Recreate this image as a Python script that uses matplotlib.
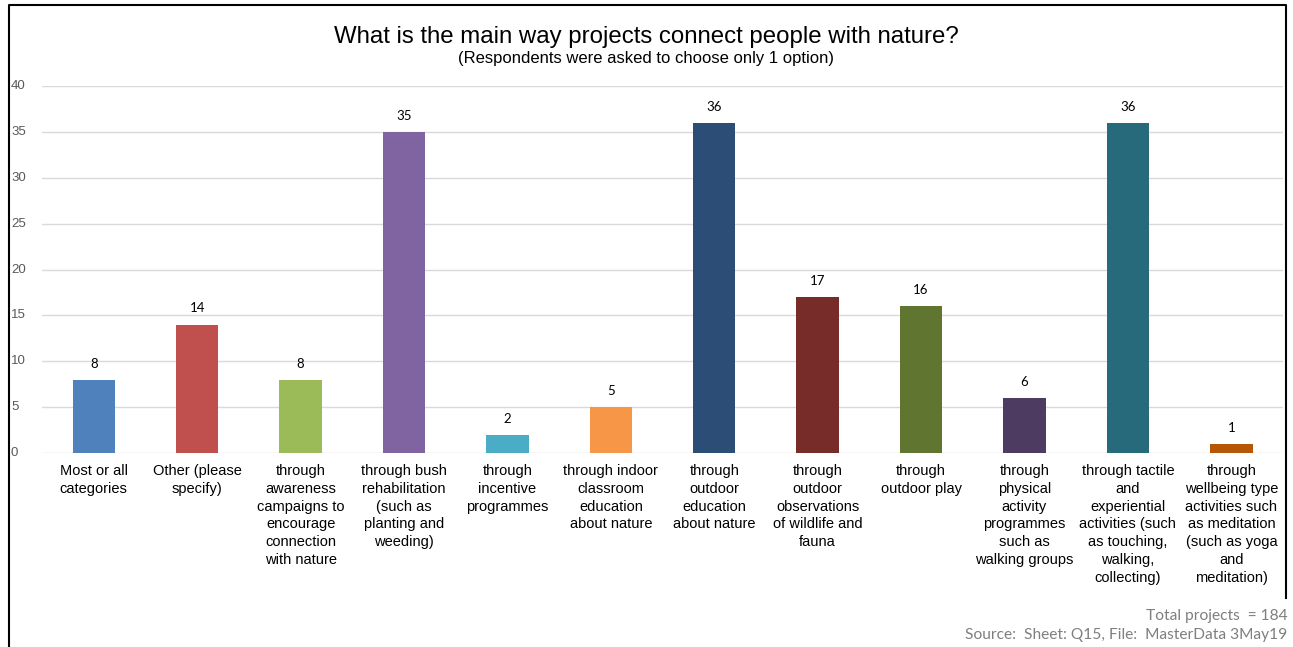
import matplotlib
matplotlib.use("Agg")
import matplotlib.pyplot as plt
from matplotlib.lines import Line2D

categories = [
    "Most or all\ncategories",
    "Other (please\nspecify)",
    "through\nawareness\ncampaigns to\nencourage\nconnection\nwith nature",
    "through bush\nrehabilitation\n(such as\nplanting and\nweeding)",
    "through\nincentive\nprogrammes",
    "through indoor\nclassroom\neducation\nabout nature",
    "through\noutdoor\neducation\nabout nature",
    "through\noutdoor\nobservations\nof wildlife and\nfauna",
    "through\noutdoor play",
    "through\nphysical\nactivity\nprogrammes\nsuch as\nwalking groups",
    "through tactile\nand\nexperiential\nactivities (such\nas touching,\nwalking,\ncollecting)",
    "through\nwellbeing type\nactivities such\nas meditation\n(such as yoga\nand\nmeditation)",
]
counts = [8, 14, 8, 35, 2, 5, 36, 17, 16, 6, 36, 1]
colors = ["#4F81BD", "#C0504D", "#9BBB59", "#8064A2", "#4BACC6", "#F79646",
          "#2C4D75", "#772C2A", "#5F7530", "#4D3B62", "#276A7C", "#B65708"]
yticks = [0, 5, 10, 15, 20, 25, 30, 35, 40]

fig = plt.figure(figsize=(12.93, 6.47), dpi=100)
ax = fig.add_axes([0.0325, 0.2998, 0.9598, 0.5672])

x = range(len(counts))
ax.bar(x, counts, width=0.41, color=colors, zorder=2)
for xi, v in zip(x, counts):
    ax.text(xi, v + 1.1, str(v), ha="center", va="bottom", fontsize=9.5,
            family="Lato", color="#000000")

ax.set_xlim(-0.5, len(counts) - 0.5)
ax.set_ylim(0, 40)
ax.set_yticks(yticks)
ax.set_yticklabels([])
for t in yticks:
    ax.axhline(t, color="#D9D9D9", lw=1.0, zorder=1)
    fig.text(0.0085, ax.transData.transform((0, t))[1] / fig.bbox.height, str(t),
             ha="left", va="center", fontsize=9.5, color="#595959", family="Liberation Sans")
ax.tick_params(axis="both", length=0)
ax.set_xticks(list(x))
ax.set_xticklabels(categories, fontsize=10.5, family="Liberation Sans", linespacing=1.34,
                   va="top")
ax.tick_params(axis="x", pad=8)
for s in ax.spines.values():
    s.set_visible(False)

fig.text(0.5, 0.943, "What is the main way projects connect people with nature?",
         ha="center", va="center", fontsize=17.3, family="Liberation Sans")
fig.text(0.5, 0.909, "(Respondents were asked to choose only 1 option)",
         ha="center", va="center", fontsize=12, family="Liberation Sans")

fig.text(0.9955, 0.048, "Total projects  = 184", ha="right", va="center",
         fontsize=11.2, color="#7F7F7F", family="Lato")
fig.text(0.9955, 0.019, "Source:  Sheet: Q15, File:  MasterData 3May19", ha="right",
         va="center", fontsize=11.2, color="#7F7F7F", family="Lato")

# outer frame: left runs to the bottom, right stops above the footnotes
l, r, t = 9 / 1293, 1286 / 1293, 1 - 5 / 647
fig.add_artist(Line2D([l, l, r, r], [0, t, t, 1 - 598 / 647], transform=fig.transFigure,
                      color="#000000", lw=1.5))

fig.savefig("out.png", dpi=100)
